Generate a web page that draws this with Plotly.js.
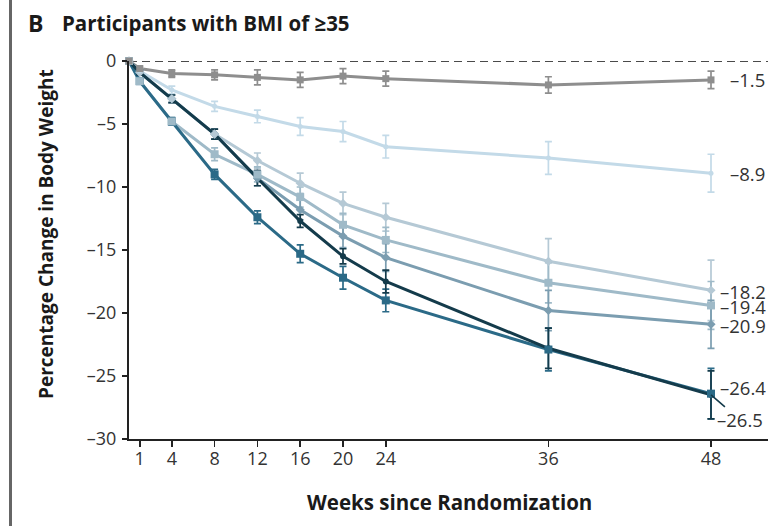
<!DOCTYPE html>
<html>
<head>
<meta charset="utf-8">
<script src="https://cdn.plot.ly/plotly-3.0.1.min.js"></script>
<style>
  html, body { margin: 0; padding: 0; background: #ffffff; }
  #chart { width: 768px; height: 526px; }
</style>
</head>
<body>
<div id="chart"></div>
<script>
// ---- data ----
const weeks = [0, 1, 4, 8, 12, 16, 20, 24, 36, 48];
const tickWeeks = [1, 4, 8, 12, 16, 20, 24, 36, 48];
const tickLabels = ['1', '4', '8', '12', '16', '20', '24', '36', '48'];
const yTickVals = [0, -5, -10, -15, -20, -25, -30];
const yTickLabels = ['0', '\u20135', '\u201310', '\u201315', '\u201320', '\u201325', '\u201330'];

const groupNames = ['Placebo', '1 mg', '4 mg (initial 2 mg)', '4 mg', '8 mg (initial 2 mg)', '8 mg (initial 4 mg)', '12 mg'];

const placebo   = [0, -0.6, -1.0, -1.1, -1.3, -1.5, -1.2, -1.4, -1.9, -1.5];
const dose1     = [0, -0.8, -2.3, -3.6, -4.4, -5.2, -5.6, -6.8, -7.7, -8.9];
const dose4i2   = [0, -0.9, -3.0, -5.8, -7.9, -9.7, -11.3, -12.4, -15.9, -18.2];
const dose4     = [0, -1.6, -4.8, -7.4, -9.0, -10.8, -13.0, -14.2, -17.6, -19.4];
const dose8i2   = [0, -0.9, -3.0, -5.8, -9.3, -11.8, -13.9, -15.6, -19.8, -20.9];
const dose8i4   = [0, -1.6, -4.8, -9.0, -12.4, -15.3, -17.2, -19.0, -22.9, -26.4];
const dose12    = [0, -0.9, -3.0, -5.8, -9.3, -12.7, -15.5, -17.5, -22.8, -26.5];

const errPlacebo = [0, 0.2, 0.3, 0.4, 0.6, 0.6, 0.6, 0.6, 0.65, 0.7];
const errDose1   = [0, 0.2, 0.3, 0.4, 0.5, 0.7, 0.8, 0.9, 1.3, 1.5];
const errDose4i2 = [0, 0.2, 0.3, 0.4, 0.6, 0.8, 0.9, 1.1, 1.8, 2.4];
const errDose4   = [0, 0.2, 0.3, 0.5, 0.6, 0.8, 0.9, 1.0, 1.6, 1.9];
const errDose8i2 = [0, 0.2, 0.3, 0.4, 0.6, 0.8, 0.9, 1.1, 1.6, 1.9];
const errDose8i4 = [0, 0.2, 0.3, 0.4, 0.5, 0.7, 0.9, 0.9, 1.7, 2.0];
const errDose12  = [0, 0.2, 0.3, 0.4, 0.6, 0.5, 0.6, 0.9, 1.6, 1.9];

// ---- styling ----
const series = [
  {name: groupNames[0], y: placebo, e: errPlacebo, color: '#8e8e8e', symbol: 'square', size: 7},
  {name: groupNames[1], y: dose1,   e: errDose1,   color: '#c3dae8', symbol: 'circle', size: 5},
  {name: groupNames[2], y: dose4i2, e: errDose4i2, color: '#b5c9d5', symbol: 'diamond', size: 7},
  {name: groupNames[3], y: dose4,   e: errDose4,   color: '#9fbac8', symbol: 'square', size: 8},
  {name: groupNames[4], y: dose8i2, e: errDose8i2, color: '#7b9db0', symbol: 'diamond', size: 7},
  {name: groupNames[5], y: dose8i4, e: errDose8i4, color: '#2b6a87', symbol: 'square', size: 8},
  {name: groupNames[6], y: dose12,  e: errDose12,  color: '#143b4b', symbol: 'circle', size: 6}
];

// The reference's week axis is drawn in two linear segments: weeks 0-24 and 24-48 (wider).
const LATE_SCALE = 13.55 / 10.7;
function axisPos(w) { return w <= 24 ? w : 24 + (w - 24) * LATE_SCALE; }

const xPos = weeks.map(axisPos);
const lastX = axisPos(48);

// lines + error bars, light to dark (dark lines on top at crossings)
const lineTraces = series.map(s => ({
  type: 'scatter',
  mode: 'lines',
  name: s.name,
  x: xPos,
  y: s.y,
  cliponaxis: false,
  line: {color: s.color, width: 3},
  error_y: {type: 'data', array: s.e, visible: true, color: s.color, thickness: 1.7, width: 3.5},
  showlegend: false,
  hoverinfo: 'skip'
}));
// markers, dark to light (lighter markers on top where groups share a point)
const markerTraces = series.slice().reverse().map(s => ({
  type: 'scatter',
  mode: 'markers',
  name: s.name,
  x: xPos,
  y: s.y,
  cliponaxis: false,
  marker: {color: s.color, symbol: s.symbol, size: s.size},
  showlegend: false,
  hoverinfo: 'x+y'
}));

const labelFont = {family: 'Open Sans, sans-serif', size: 18.5, color: '#333'};
const endShift = [17, 17, 7, 7, 7, 7, 0];
const endYShift = [0, 0, -1, -1, -1, 6, 0];
const annotations = series.map((s, i) => {
  const v = s.y[s.y.length - 1];
  const txt = '\u2013' + Math.abs(v).toFixed(1);
  if (i === 6) {
    return {x: lastX, y: v, xref: 'x', yref: 'y', text: txt, showarrow: true,
      arrowhead: 0, arrowwidth: 1.6, arrowcolor: s.color, ax: 29, ay: 25,
      font: labelFont, borderpad: 0};
  }
  return {x: lastX, y: v, xref: 'x', yref: 'y', text: txt, showarrow: false,
    xanchor: 'left', yanchor: 'middle', xshift: endShift[i], yshift: endYShift[i], font: labelFont};
});

const titleFont = {family: 'Open Sans, sans-serif', size: 20.5, color: '#1a1a1a', weight: 700};
annotations.push(
  {xref: 'paper', yref: 'paper', x: (26 - 129) / 639, y: (439 - 23) / 378, xanchor: 'left', yanchor: 'middle',
   text: 'B', showarrow: false, font: {family: 'Open Sans, sans-serif', size: 23, color: '#1a1a1a', weight: 700}},
  {xref: 'paper', yref: 'paper', x: (60 - 129) / 639, y: (439 - 23) / 378, xanchor: 'left', yanchor: 'middle',
   text: 'Participants with BMI of \u226535', showarrow: false, font: titleFont},
  {xref: 'paper', yref: 'paper', x: (46 - 129) / 639, y: (439 - 234) / 378, xanchor: 'center', yanchor: 'middle',
   textangle: -90, text: 'Percentage Change in Body Weight', showarrow: false,
   font: {family: 'Open Sans, sans-serif', size: 19, color: '#1a1a1a', weight: 700}},
  {xref: 'paper', yref: 'paper', x: (449 - 129) / 639, y: (439 - 502) / 378, xanchor: 'center', yanchor: 'middle',
   text: 'Weeks since Randomization', showarrow: false, font: titleFont}
);

const tickFont = {family: 'Open Sans, sans-serif', size: 18, color: '#333'};
const layout = {
  width: 768, height: 526,
  margin: {l: 129, r: 0, t: 61, b: 87, pad: 0},
  paper_bgcolor: '#ffffff', plot_bgcolor: '#ffffff',
  font: {family: 'Open Sans, sans-serif', size: 15, color: '#333'},
  xaxis: {
    range: [0, 639 / 10.7],
    tickvals: tickWeeks.map(axisPos), ticktext: tickLabels,
    ticks: 'outside', ticklen: 6, tickwidth: 1.6, tickcolor: '#222',
    showline: true, linecolor: '#222', linewidth: 2,
    showgrid: false, zeroline: false,
    tickfont: tickFont, ticklabelstandoff: -4
  },
  yaxis: {
    range: [-30, 0],
    tickvals: yTickVals, ticktext: yTickLabels,
    ticks: 'outside', ticklen: 5, tickwidth: 1.6, tickcolor: '#222',
    showline: true, linecolor: '#222', linewidth: 2,
    showgrid: false, zeroline: false,
    tickfont: tickFont, ticklabelstandoff: 2
  },
  shapes: [
    {type: 'line', xref: 'paper', x0: 0, x1: 1, yref: 'y', y0: 0, y1: 0,
     line: {color: '#4a4a4a', width: 2, dash: '8px,5px'}, layer: 'below'},
    {type: 'line', xref: 'paper', x0: (10.5 - 129) / 639, x1: (10.5 - 129) / 639,
     yref: 'paper', y0: (439 - 530) / 378, y1: (439 + 5) / 378,
     line: {color: '#666', width: 3}}
  ],
  annotations: annotations
};

Plotly.newPlot('chart', lineTraces.concat(markerTraces), layout, {staticPlot: true, displayModeBar: false});
</script>
</body>
</html>
